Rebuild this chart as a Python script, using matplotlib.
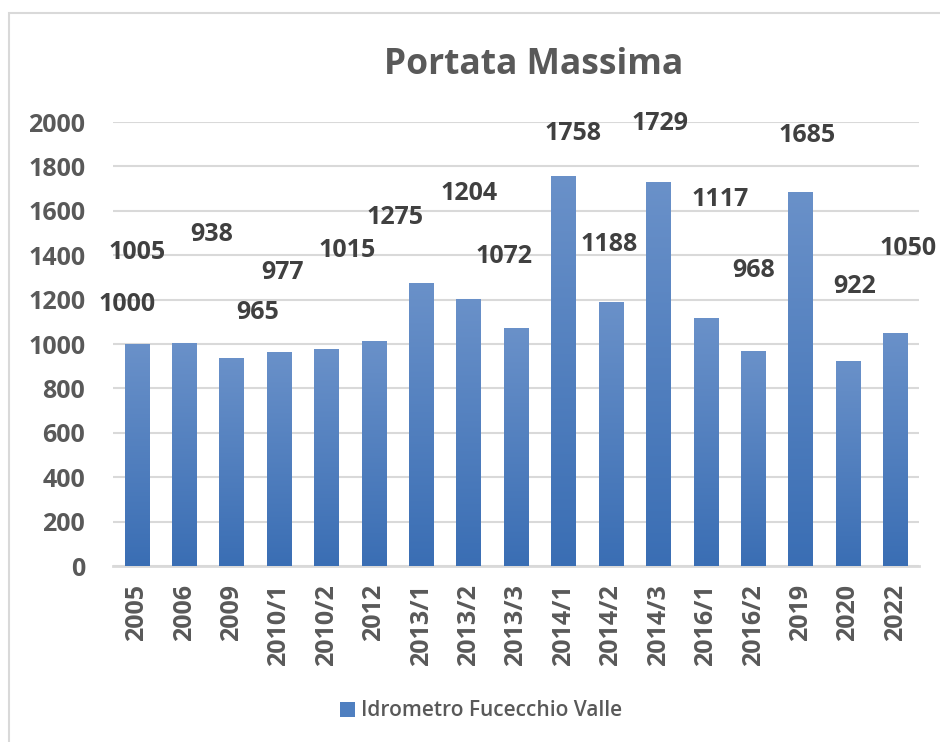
import numpy as np
import matplotlib
matplotlib.use('Agg')
import matplotlib.pyplot as plt
import matplotlib.patches as patches
from matplotlib.colors import LinearSegmentedColormap

# Dati
categorie = ['2005', '2006', '2009', '2010/1', '2010/2', '2012', '2013/1', '2013/2',
             '2013/3', '2014/1', '2014/2', '2014/3', '2016/1', '2016/2', '2019',
             '2020', '2022']
portata = [1000, 1005, 938, 965, 977, 1015, 1275, 1204, 1072, 1758, 1188, 1729,
           1117, 968, 1685, 922, 1050]
yticks = [0, 200, 400, 600, 800, 1000, 1200, 1400, 1600, 1800, 2000]

# posizioni delle etichette (spostate a mano nel grafico originale)
lab_x = [-0.2, 0.0, 1.59, 2.56, 3.07, 4.44, 5.45, 7.01, 7.75, 9.21, 9.96, 11.04,
         12.30, 13.02, 14.14, 15.15, 16.27]
lab_y = [1180, 1414, 1495, 1140, 1320, 1423, 1572, 1676, 1396, 1950, 1446, 1995,
         1653, 1329, 1937, 1257, 1432]

testo = '#595959'
griglia = '#d9d9d9'
font = 'Open Sans'

fig = plt.figure(figsize=(9.4, 7.42), dpi=100)
ax = fig.add_axes([113/940, 176/742, 806/940, 444/742])

# bordo del grafico
fig.patches.append(patches.Rectangle((9/940, -0.05), 1.0, 1 - 13/742 + 0.05,
                                     transform=fig.transFigure, fill=False,
                                     ec=griglia, lw=1.5))

x = np.arange(len(categorie))
w = 0.51
bars = ax.bar(x, portata, width=w, color='#4F7FC0', zorder=2,
              label='Idrometro Fucecchio Valle')

# sfumatura come in Excel
cmap = LinearSegmentedColormap.from_list('blu', ['#3A6EB4', '#6A91C9'])
grad = np.linspace(0, 1, 256).reshape(-1, 1)
for b in bars:
    bx, by = b.get_x(), b.get_y()
    im = ax.imshow(grad, cmap=cmap, aspect='auto', origin='lower',
                   extent=(bx, bx + b.get_width(), by, by + b.get_height()), zorder=3)
    im.set_clip_path(b)

ax.set_xlim(-0.5, len(categorie) - 0.5)
ax.set_ylim(0, 2000)
ax.set_yticks(yticks)
ax.set_xticks(x)
ax.set_xticklabels(categorie, rotation=90)
for s in ['top', 'right', 'left']:
    ax.spines[s].set_visible(False)
ax.spines['bottom'].set_color(griglia)
ax.spines['bottom'].set_linewidth(2)
ax.grid(axis='y', color=griglia, lw=1.5, zorder=0)
ax.set_axisbelow(True)
ax.tick_params(axis='y', length=0, pad=20, labelsize=18, labelcolor=testo)
ax.tick_params(axis='x', length=0, pad=13, labelsize=18, labelcolor=testo)
for t in ax.get_xticklabels() + ax.get_yticklabels():
    t.set_fontfamily(font)
    t.set_fontweight('bold')

# etichette dei valori
for v, lx, ly in zip(portata, lab_x, lab_y):
    ax.text(lx, ly, str(v), ha='center', va='center', fontsize=18,
            fontweight='bold', color='#404040', family=font, clip_on=False)

fig.text(534/940, 1 - 65/742, 'Portata Massima', ha='center', va='center',
         fontsize=25.5, fontweight='bold', color=testo, family=font)

leg = fig.legend(loc='center', bbox_to_anchor=(481/940, 1 - 711/742), frameon=False,
                 handlelength=0.7, handleheight=0.7, handletextpad=0.3,
                 prop={'family': font, 'size': 15, 'weight': 'semibold'})
for t in leg.get_texts():
    t.set_color(testo)

fig.savefig('out.png', dpi=100)
